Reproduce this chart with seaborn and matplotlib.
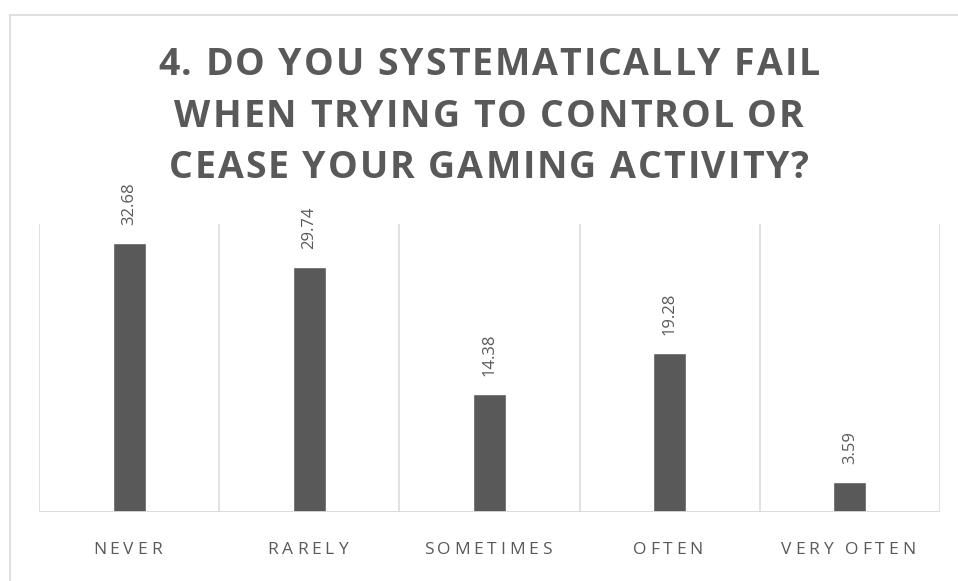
import matplotlib
matplotlib.use("Agg")
import matplotlib.pyplot as plt
import seaborn as sns
import pandas as pd
from matplotlib.font_manager import FontProperties, findfont
from matplotlib.ft2font import FT2Font
from matplotlib.lines import Line2D

# Survey answers (percent of respondents)
categories = ["NEVER", "RARELY", "SOMETIMES", "OFTEN", "VERY OFTEN"]
values = [32.68, 29.74, 14.38, 19.28, 3.59]
title_lines = [
    "4. DO YOU SYSTEMATICALLY FAIL",
    "WHEN TRYING TO CONTROL OR",
    "CEASE YOUR GAMING ACTIVITY?",
]

W, H, DPI = 958, 581, 100
GREY = "#595959"
LIGHT = "#d9d9d9"

sns.set_theme(style="white")
plt.rcParams["font.family"] = ["Open Sans", "DejaVu Sans"]

fig = plt.figure(figsize=(W / DPI, H / DPI), dpi=DPI)
fig.patch.set_facecolor("white")


def px_to_fig(x, y):
    return x / W, 1 - y / H


def advances(text, size, weight):
    """Per-character advance widths in pixels."""
    path = findfont(FontProperties(family="Open Sans", weight=weight))
    font = FT2Font(path, hinting_factor=1)
    font.set_size(size, DPI)
    return [font.load_char(ord(c)).linearHoriAdvance / 65536 for c in text]


def tracked_text(text, cx, baseline, size, weight, tracking, color):
    """Draw centred text with extra spacing between letters (pixel coords)."""
    adv = advances(text, size, weight)
    total = sum(adv) + tracking * (len(text) - 1)
    x = cx - total / 2
    for c, a in zip(text, adv):
        if c != " ":
            fx, fy = px_to_fig(x, baseline)
            fig.text(fx, fy, c, ha="left", va="baseline", fontsize=size,
                     fontweight=weight, color=color, family="Open Sans")
        x += a + tracking


# Plot area
left, right, top, bottom = 39, 940, 224, 512
ax = fig.add_axes([left / W, 1 - bottom / H, (right - left) / W, (bottom - top) / H])

df = pd.DataFrame({"answer": categories, "share": values})
sns.barplot(data=df, x="answer", y="share", color=GREY, saturation=1,
            width=0.183, ax=ax)

ax.set_xlim(-0.5, len(categories) - 0.5)
ax.set_ylim(0, 35)
for s in ax.spines.values():
    s.set_visible(False)
ax.set_xticks([])
ax.set_yticks([])
ax.set_xlabel("")
ax.set_ylabel("")

# Category separators and baseline
for b in [i - 0.5 for i in range(len(categories) + 1)]:
    ax.axvline(b, color=LIGHT, lw=1.1, zorder=0)
ax.axhline(0, color=LIGHT, lw=1.3, zorder=3)

# Value labels above the bars
for i, v in enumerate(values):
    ax.annotate(f"{v:.2f}", (i, v), xytext=(0, 13), textcoords="offset points",
                rotation=90, ha="center", va="bottom", fontsize=12,
                color=GREY, family="Open Sans")

# Letter-spaced category labels under each bar
fig.canvas.draw()
for i, cat in enumerate(categories):
    dx, _ = ax.transData.transform((i, 0))
    tracked_text(cat, dx - 2, 554, 12.5, "normal", 4.0, GREY)

# Letter-spaced bold title, tracking chosen so the first line spans 662 px
tsize = 27
tweight = "bold"
natural = sum(advances(title_lines[0], tsize, tweight))
tr = (662 - natural) / (len(title_lines[0]) - 1)
for line, base in zip(title_lines, [75, 127, 178]):
    tracked_text(line, 489, base, tsize, tweight, tr, GREY)

# Chart frame
fx0, fy0 = px_to_fig(9.5, 14.5)
fig.add_artist(Line2D([fx0, 1.01], [fy0, fy0], color=LIGHT, lw=1.2,
                      transform=fig.transFigure))
fig.add_artist(Line2D([fx0, fx0], [fy0, -0.01], color=LIGHT, lw=1.2,
                      transform=fig.transFigure))

fig.savefig("out.png", dpi=DPI, facecolor="white")
